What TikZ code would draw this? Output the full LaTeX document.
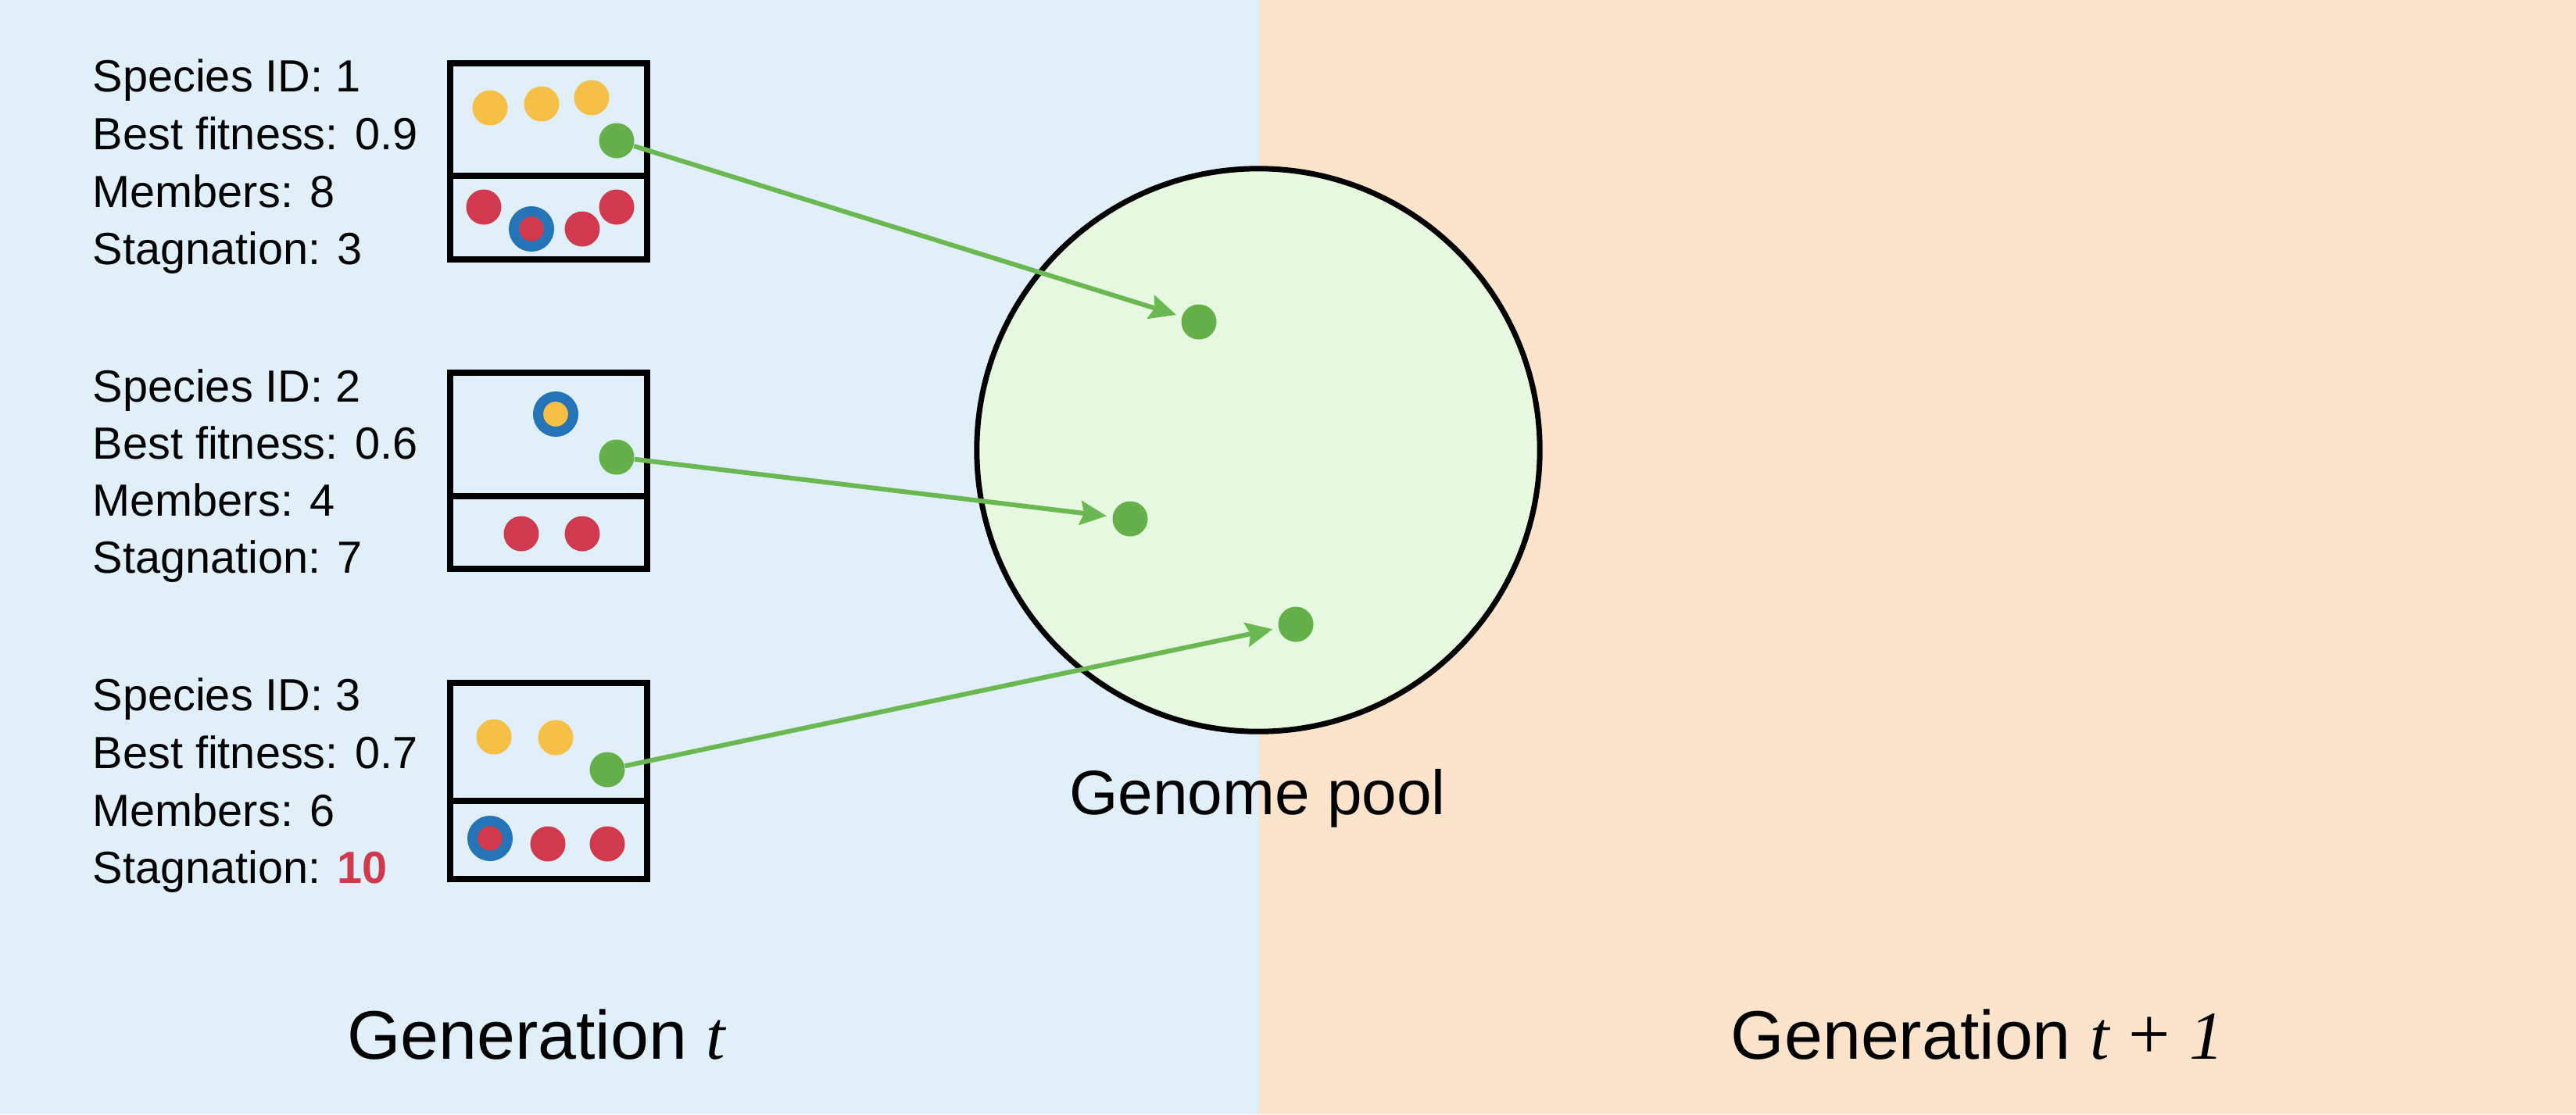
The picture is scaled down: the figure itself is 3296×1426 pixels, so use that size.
\documentclass[tikz,border=0pt]{standalone}
\usepackage{fontspec}
\setmainfont{Liberation Sans}
\newfontfamily\serifface{Liberation Serif}
\usetikzlibrary{arrows.meta}
\definecolor{bgblue}{HTML}{E1EFF9}
\definecolor{bgpeach}{HTML}{FCE3CB}
\definecolor{poolfill}{HTML}{E7F8E0}
\definecolor{dotyellow}{HTML}{F5C045}
\definecolor{dotred}{HTML}{D13A4E}
\definecolor{dotgreen}{HTML}{66B04B}
\definecolor{arrowgreen}{HTML}{6BB852}
\definecolor{dotblue}{HTML}{2574B8}
\tikzset{
  info/.style={anchor=base west, inner sep=0pt, font=\fontsize{16.4pt}{19pt}\selectfont},
  speciesbox/.style={draw=black, line width=0.085cm},
  dot/.style={circle, inner sep=0pt, minimum size=0.45cm},
  ydot/.style={dot, fill=dotyellow},
  rdot/.style={dot, fill=dotred},
  gdot/.style={dot, fill=dotgreen},
  ringred/.style={circle, inner sep=0pt, minimum size=0.45cm, fill=dotred, draw=dotblue, line width=0.13cm},
  ringyellow/.style={circle, inner sep=0pt, minimum size=0.45cm, fill=dotyellow, draw=dotblue, line width=0.13cm},
  transfer/.style={draw=arrowgreen, line width=0.06cm, shorten >=0.07cm,
    -{Stealth[length=0.34cm, width=0.31cm, inset=0.05cm]}},
  biglabel/.style={anchor=base, inner sep=0pt, font=\fontsize{25pt}{30pt}\selectfont},
}
\begin{document}
\begin{tikzpicture}[x=0.01cm, y=-0.01cm]
\useasboundingbox (0,0) rectangle (3296,1426);
% backgrounds
\fill[bgblue] (0,0) rectangle (1611,1426);
\fill[bgpeach] (1611,0) rectangle (3296,1426);

% genome pool
\node[circle, draw=black, fill=poolfill, line width=0.07cm, minimum size=7.2cm, inner sep=0pt] (pool) at (1610,576) {};
\node[anchor=base, inner sep=0pt, font=\fontsize{22.8pt}{27pt}\selectfont] (poollabel) at (1609,1042) {Genome pool};

% species 1
\node[info] (s1a) at (118,117) {Species ID: 1};
\node[info] (s1b) at (118,191) {Best fitness: 0.9};
\node[info] (s1c) at (118,265) {Members: 8};
\node[info] (s1d) at (118,338) {Stagnation: 3};
\draw[speciesbox] (576,81) rectangle (828,332);
\draw[speciesbox] (576,225) -- (828,225);
\node[ydot] (y11) at (627,138) {};
\node[ydot] (y12) at (693,133) {};
\node[ydot] (y13) at (757,125) {};
\node[gdot] (g1) at (789,180) {};
\node[rdot] (r11) at (619,265) {};
\node[ringred] (b1) at (680,293) {};
\node[rdot] (r12) at (745,293) {};
\node[rdot] (r13) at (789,265) {};

% species 2
\node[info] (s2a) at (118,514) {Species ID: 2};
\node[info] (s2b) at (118,587) {Best fitness: 0.6};
\node[info] (s2c) at (118,660) {Members: 4};
\node[info] (s2d) at (118,733) {Stagnation: 7};
\draw[speciesbox] (576,477) rectangle (828,728);
\draw[speciesbox] (576,635) -- (828,635);
\node[ringyellow] (b2) at (711,530) {};
\node[gdot] (g2) at (789,585) {};
\node[rdot] (r21) at (667,683) {};
\node[rdot] (r22) at (745,683) {};

% species 3
\node[info] (s3a) at (118,909) {Species ID: 3};
\node[info] (s3b) at (118,983) {Best fitness: 0.7};
\node[info] (s3c) at (118,1057) {Members: 6};
\node[info] (s3d) at (118,1130) {Stagnation: \textcolor{dotred}{\textbf{10}}};
\draw[speciesbox] (576,874) rectangle (828,1125);
\draw[speciesbox] (576,1025) -- (828,1025);
\node[ydot] (y31) at (632,943) {};
\node[ydot] (y32) at (711,944) {};
\node[gdot] (g3) at (777,985) {};
\node[ringred] (b3) at (627,1073) {};
\node[rdot] (r31) at (701,1080) {};
\node[rdot] (r32) at (777,1080) {};

% pool genomes
\node[gdot] (p1) at (1534,412) {};
\node[gdot] (p2) at (1446,664) {};
\node[gdot] (p3) at (1658,799) {};

% transfers
\draw[transfer] (g1) -- (p1);
\draw[transfer] (g2) -- (p2);
\draw[transfer] (g3) -- (p3);

% generation labels
\node[biglabel] (gen1) at (686,1355) {Generation {\serifface\itshape t}};
\node[biglabel] (gen2) at (2530,1355) {Generation {\serifface\itshape t} {\serifface\fontsize{27pt}{30pt}\selectfont +} {\serifface\itshape 1}};
\end{tikzpicture}
\end{document}
